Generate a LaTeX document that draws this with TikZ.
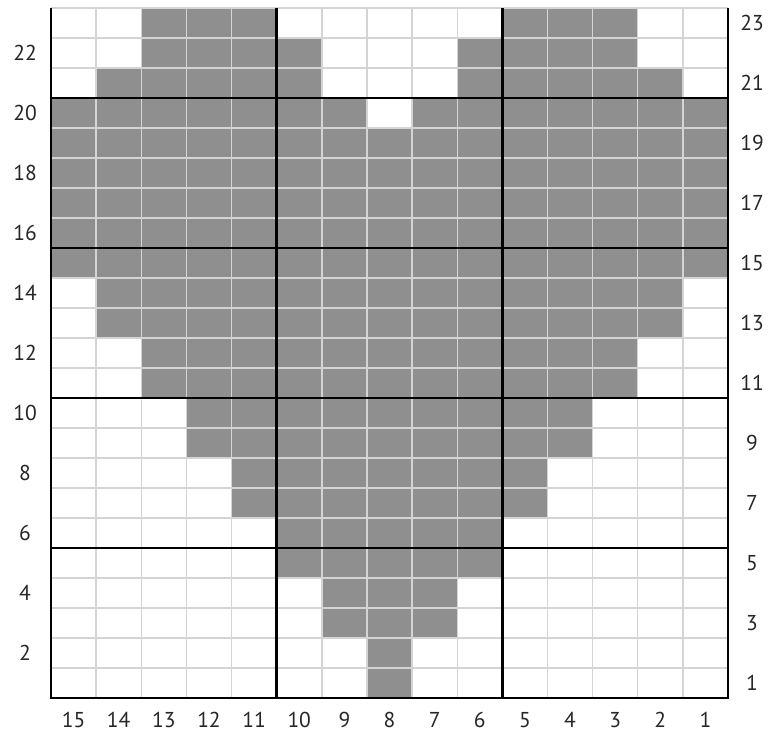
\documentclass[tikz,border=0pt]{standalone}
\usepackage{fontspec}
\setmainfont{PT Sans}
\definecolor{cellgray}{RGB}{143,143,143}
\definecolor{thingrid}{RGB}{212,212,212}
\begin{document}
\begin{tikzpicture}[x=1pt,y=-1pt,
  thinline/.style={draw=thingrid,line width=1.4pt},
  thickline/.style={draw=black,line width=2.8pt},
  numlabel/.style={font=\fontsize{21.5}{21.5}\selectfont,text=black!85,inner sep=0pt}]
\useasboundingbox (0,0) rectangle (771,733);
\def\cw{45.133}
\def\rh{30}
% gray cells: row / from column / to column
\foreach \r/\a/\b in {23/13/11,23/5/3,22/13/10,22/6/3,21/14/10,21/6/2,20/15/9,20/7/1,
  19/15/1,18/15/1,17/15/1,16/15/1,15/15/1,14/14/2,13/14/2,12/13/3,11/13/3,
  10/12/4,9/12/4,8/11/5,7/11/5,6/10/6,5/10/6,4/9/7,3/9/7,2/8/8,1/8/8}
  \fill[cellgray] ({51+(15-\a)*\cw},{8+(23-\r)*\rh}) rectangle ({51+(16-\b)*\cw},{8+(24-\r)*\rh});
% thin grid
\foreach \i in {1,...,14}
  \draw[thinline] ({51+\i*\cw},8) -- ({51+\i*\cw},698);
\foreach \j in {0,...,22}
  \draw[thinline] (51,{8+\j*\rh}) -- (728,{8+\j*\rh});
% thick lines
\draw[thickline] (51,8) -- (51,698) -- (728,698) -- (728,8);
\foreach \i in {5,10}
  \draw[thickline] ({51+\i*\cw},8) -- ({51+\i*\cw},698);
\foreach \j in {3,8,13,18}
  \draw[thickline] (51,{8+\j*\rh}) -- (728,{8+\j*\rh});
% row labels
\foreach \r in {2,4,...,22}
  \node[numlabel] (L\r) at (25,{8+(23.5-\r)*\rh}) {\r};
\foreach \r in {1,3,...,23}
  \node[numlabel] (R\r) at (752,{8+(23.5-\r)*\rh}) {\r};
% column labels
\foreach \c in {1,...,15}
  \node[numlabel] (C\c) at ({51+(15.5-\c)*\cw},720) {\c};
\end{tikzpicture}
\end{document}
